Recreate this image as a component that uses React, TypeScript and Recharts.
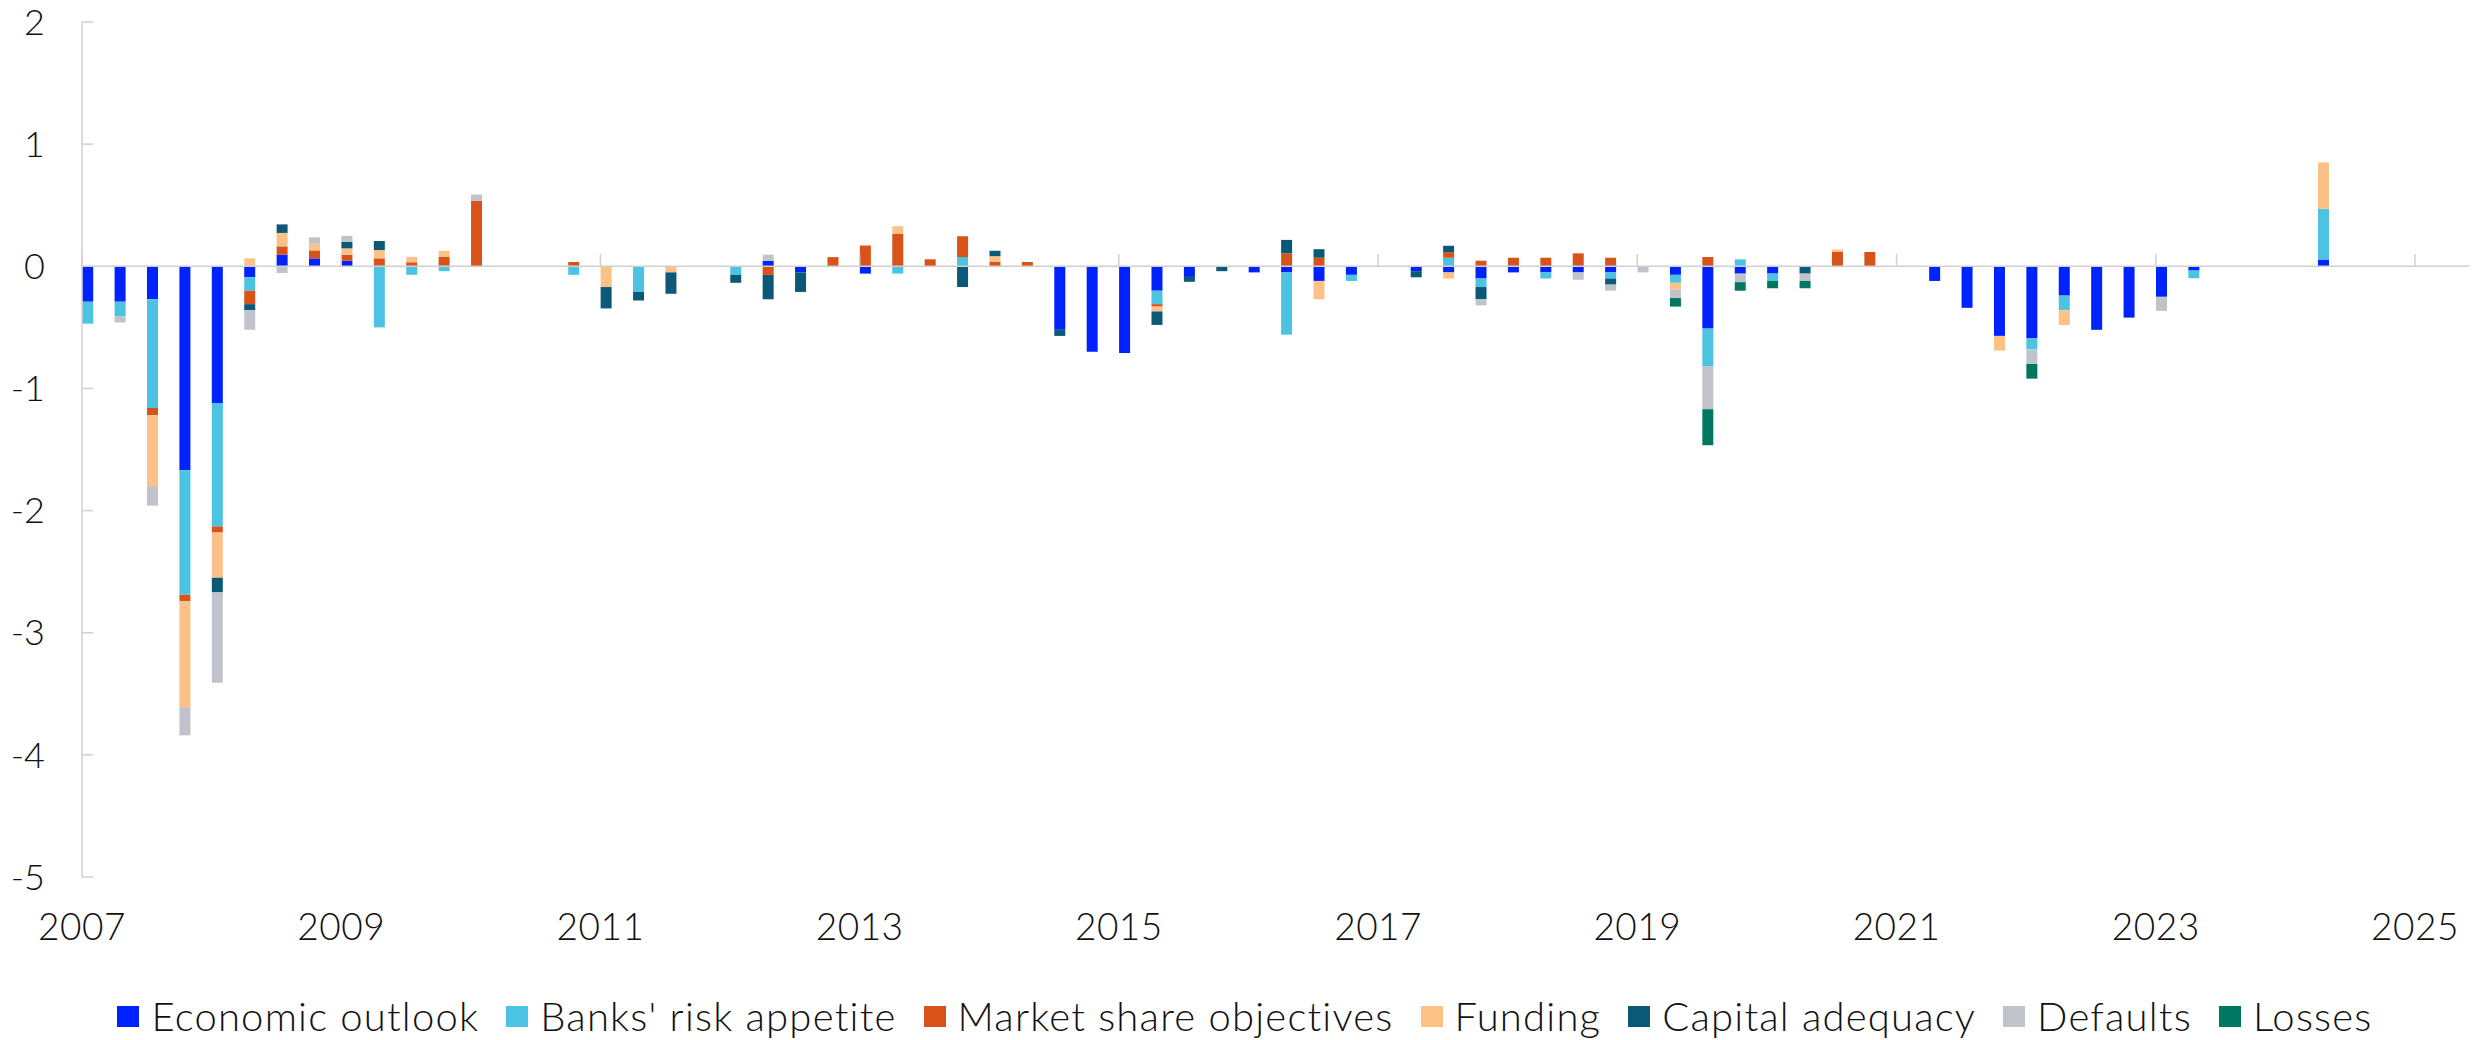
import React from 'react';
import { BarChart, Bar, XAxis, YAxis, ReferenceLine, Legend } from 'recharts';

// quarterly survey rounds, 2007Q1 .. 2024Q2
const quarters: string[] = Array.from({ length: 70 }, (_, i) => `${2007 + Math.floor(i / 4)}Q${(i % 4) + 1}`);

const economicOutlook = [
  -0.29, -0.29, -0.27, -1.67, -1.12, -0.09, 0.095, 0.065, 0.045, 0,
  0, 0, 0, 0, 0, 0, 0, 0, 0, 0,
  0, 0.045, -0.05, 0, -0.06, 0, 0, 0, 0, 0,
  -0.52, -0.7, -0.71, -0.2, -0.087, 0, -0.05, -0.05, -0.12, -0.07,
  0, -0.04, -0.05, -0.1, -0.05, -0.05, -0.05, -0.05, 0, -0.07,
  -0.51, -0.06, -0.06, 0, 0, 0, 0, -0.12, -0.34, -0.57,
  -0.59, -0.24, -0.52, -0.42, -0.25, -0.035, 0, 0, 0, 0.055,
];
const riskAppetite = [
  -0.18, -0.12, -0.89, -1.02, -1.01, -0.11, 0, 0, 0, -0.5,
  -0.07, -0.04, 0, 0, 0, -0.07, 0, -0.21, 0, 0,
  -0.07, 0, 0, 0, 0, -0.06, 0, 0.076, 0, 0,
  0, 0, 0, -0.11, 0, 0, 0, -0.51, 0, -0.05,
  0, 0, 0.07, -0.07, 0, -0.05, 0, -0.05, 0, -0.065,
  -0.31, 0.057, -0.06, 0, 0, 0, 0, 0, 0, 0,
  -0.09, -0.12, 0, 0, 0, -0.063, 0, 0, 0, 0.415,
];
const marketShare = [
  0, 0, -0.06, -0.05, -0.05, -0.11, 0.068, 0.065, 0.05, 0.065,
  0.033, 0.076, 0.535, 0, 0, 0.035, 0, 0, 0, 0,
  0, -0.07, 0, 0.075, 0.17, 0.265, 0.057, 0.17, 0.035, 0.035,
  0, 0, 0, -0.02, 0, 0, 0, 0.106, 0.07, 0,
  0, 0, 0.046, 0.046, 0.07, 0.07, 0.106, 0.07, 0, 0,
  0.076, 0, 0, 0, 0.117, 0.117, 0, 0, 0, 0,
  0, 0, 0, 0, 0, 0, 0, 0, 0, 0,
];
const funding = [
  0, 0, -0.58, -0.87, -0.37, 0.065, 0.11, 0.055, 0.052, 0.068,
  0.044, 0.05, 0, 0, 0, 0, -0.17, 0, -0.05, 0,
  0, 0, 0, 0, 0, 0.063, 0, 0, 0.048, 0,
  0, 0, 0, -0.04, 0, 0, 0, 0, -0.15, 0,
  0, 0, -0.05, 0, 0, 0, 0, 0, 0, -0.055,
  0, 0, 0, 0, 0.02, 0, 0, 0, 0, -0.12,
  0, -0.12, 0, 0, 0, 0, 0, 0, 0, 0.38,
];
const capitalAdequacy = [
  0, 0, 0, 0, -0.12, -0.05, 0.07, 0, 0.052, 0.074,
  0, 0, 0, 0, 0, 0, -0.175, -0.07, -0.175, 0,
  -0.065, -0.2, -0.16, 0, 0, 0, 0, -0.17, 0.044, 0,
  -0.05, 0, 0, -0.11, -0.04, -0.04, 0, 0.11, 0.07, 0,
  0, -0.05, 0.052, -0.1, 0, 0, 0, -0.05, 0, 0,
  0, 0, 0, -0.06, 0, 0, 0, 0, 0, 0,
  0, 0, 0, 0, 0, 0, 0, 0, 0, 0,
];
const defaults = [
  0, -0.05, -0.16, -0.23, -0.74, -0.16, -0.055, 0.052, 0.05, 0,
  0, 0, 0.052, 0, 0, 0, 0, 0, 0, 0,
  0, 0.05, 0, 0, 0, 0, 0, 0, 0, 0,
  0, 0, 0, 0, 0, 0, 0, 0, 0, 0,
  0, 0, 0, -0.05, 0, 0, -0.06, -0.05, -0.05, -0.07,
  -0.35, -0.07, 0, -0.06, 0, 0, 0, 0, 0, 0,
  -0.12, 0, 0, 0, -0.115, 0, 0, 0, 0, 0,
];
const losses = [
  0, 0, 0, 0, 0, 0, 0, 0, 0, 0,
  0, 0, 0, 0, 0, 0, 0, 0, 0, 0,
  0, 0, 0, 0, 0, 0, 0, 0, 0, 0,
  0, 0, 0, 0, 0, 0, 0, 0, 0, 0,
  0, 0, 0, 0, 0, 0, 0, 0, 0, -0.07,
  -0.295, -0.07, -0.06, -0.06, 0, 0, 0, 0, 0, 0,
  -0.12, 0, 0, 0, 0, 0, 0, 0, 0, 0,
];

const seriesNames = [
  'Economic outlook', "Banks' risk appetite", 'Market share objectives',
  'Funding', 'Capital adequacy', 'Defaults', 'Losses',
];
const seriesValues = [economicOutlook, riskAppetite, marketShare, funding, capitalAdequacy, defaults, losses];
const seriesColors = ['#0022FF', '#4CC3E3', '#D8531A', '#FCC186', '#0B5976', '#C0C3C9', '#007861'];

const xTicks = [2007, 2009, 2011, 2013, 2015, 2017, 2019, 2021, 2023, 2025];
const yTicks = [-5, -4, -3, -2, -1, 0, 1, 2];

// survey month (Jan/Apr/Jul/Oct), centred in its month slot, as fractional year
const toYear = (q: string): number => {
  const year = Number(q.slice(0, 4));
  const qn = Number(q.slice(5));
  return year + ((qn - 1) * 3 + 0.5) / 12;
};

const data = quarters.map((q, i) => {
  const row: Record<string, number | string> = { q, t: toYear(q) };
  seriesNames.forEach((name, s) => { row[name] = seriesValues[s][i]; });
  return row;
});

const FONT = 'Lato, "Open Sans", sans-serif';
const GRID = '#d0d0d0';

const LegendBox = () => (
  <div style={{
    display: 'flex', justifyContent: 'center', alignItems: 'center',
    fontFamily: FONT, fontWeight: 300, fontSize: 40, letterSpacing: 1.2, color: '#111',
  }}>
    {seriesNames.map((name, i) => (
      <div key={name} style={{ display: 'flex', alignItems: 'center', marginRight: i < seriesNames.length - 1 ? 27 : 0 }}>
        <span style={{ width: 22, height: 21, background: seriesColors[i], marginRight: 12, display: 'inline-block' }} />
        <span>{name}</span>
      </div>
    ))}
  </div>
);

export default function App() {
  return (
    <div style={{ position: 'absolute', left: 0, top: 0, background: '#fff' }}>
      <BarChart
        width={2490}
        height={1040}
        data={data}
        stackOffset='sign'
        margin={{ top: 22, right: 21, left: 22, bottom: 63 }}
      >
        <XAxis
          dataKey='t'
          type='number'
          domain={[2007, 2025 + 5 / 12]}
          ticks={xTicks}
          axisLine={false}
          tickLine={false}
          tickSize={0}
          tickMargin={37}
          height={100}
          tick={{ fontFamily: FONT, fontWeight: 300, fontSize: 37, fill: '#111', letterSpacing: 0.5 }}
        />
        <YAxis
          type='number'
          domain={[-5, 2]}
          ticks={yTicks}
          width={60}
          axisLine={{ stroke: GRID, strokeWidth: 1.5 }}
          tickLine={false}
          tickSize={0}
          tickMargin={37}
          tick={{ fontFamily: FONT, fontWeight: 300, fontSize: 36, fill: '#111' }}
        />
        <ReferenceLine y={0} stroke={GRID} strokeWidth={1.5} />
        {xTicks.map((yr) => (
          <ReferenceLine key={'xt' + yr} segment={[{ x: yr, y: 0 }, { x: yr, y: 0.1 }]} stroke={GRID} strokeWidth={1.5} />
        ))}
        {yTicks.filter((v) => v !== 0).map((v) => (
          <ReferenceLine key={'yt' + v} segment={[{ x: 2007, y: v }, { x: 2007.085, y: v }]} stroke={GRID} strokeWidth={1.5} />
        ))}
        {seriesNames.map((name, i) => (
          <Bar
            key={name}
            dataKey={name}
            stackId='a'
            fill={seriesColors[i]}
            barSize={11}
            isAnimationActive={false}
          />
        ))}
        <Legend
          verticalAlign='middle'
          align='center'
          layout='horizontal'
          wrapperStyle={{ top: 992, left: 0, width: 2490 }}
          content={() => <LegendBox />}
        />
      </BarChart>
    </div>
  );
}
